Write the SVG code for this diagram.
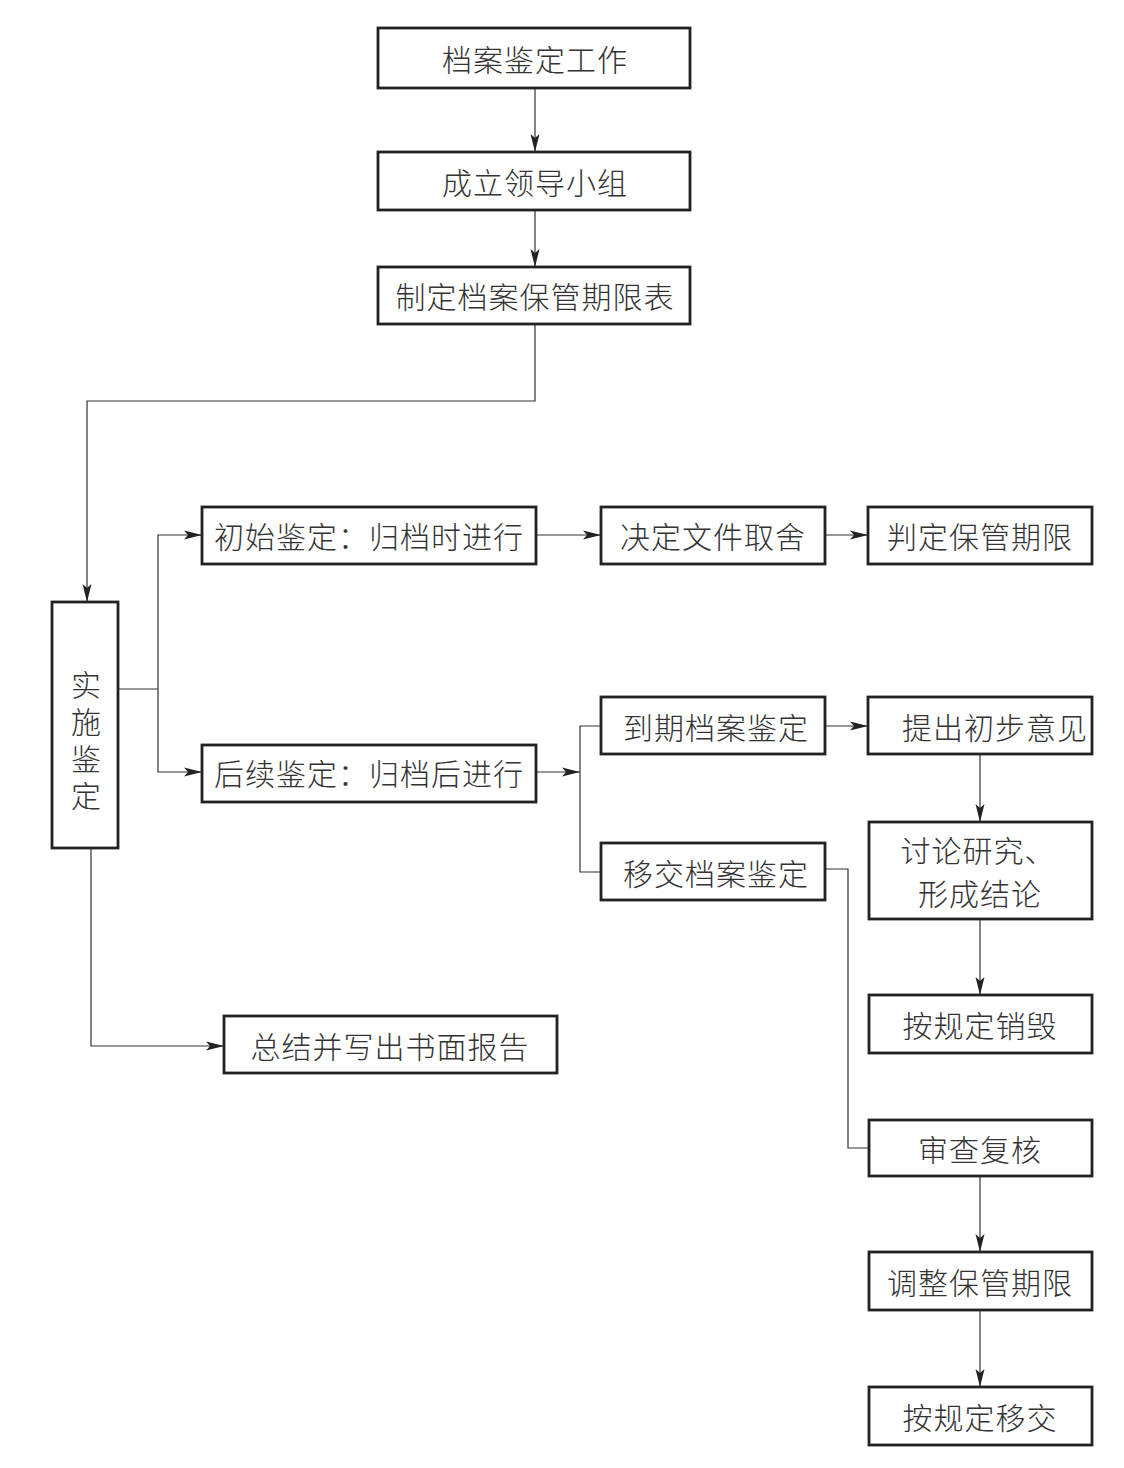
<svg xmlns="http://www.w3.org/2000/svg" width="1124" height="1468" viewBox="0 0 1124 1468">
<defs>
<marker id="arr" markerUnits="userSpaceOnUse" markerWidth="18" markerHeight="10" refX="18" refY="5" orient="auto">
<path d="M0,0.5 L18,5 L0,9.5 L4,5 z" fill="#222"/>
</marker>
<style>
.box{fill:#fff;stroke:#222;stroke-width:2.8}
.t{font-family:"Noto Sans CJK SC","Noto Sans CJK JP",sans-serif;font-size:30px;font-weight:300;fill:#333;text-anchor:middle;dominant-baseline:central;letter-spacing:1px}
.v{writing-mode:tb;letter-spacing:7px}
.c{fill:none;stroke:#333;stroke-width:1.2}
.a{fill:none;stroke:#333;stroke-width:1.2;marker-end:url(#arr)}
</style>
</defs>
<rect width="1124" height="1468" fill="#fff"/>
<g id="connectors">
<path class="a" d="M535,89 V152"/>
<path class="a" d="M535,210 V267"/>
<path class="a" d="M535,324 V401 H87 V602"/>
<path class="c" d="M118,689 H158"/>
<path class="a" d="M158,689 V535 H202"/>
<path class="a" d="M158,689 V772 H202"/>
<path class="a" d="M536,535 H601"/>
<path class="a" d="M825,535 H868"/>
<path class="a" d="M536,772 H580"/>
<path class="c" d="M601,726 H580 V872 H601"/>
<path class="a" d="M825,726 H868"/>
<path class="a" d="M980,754 V822"/>
<path class="a" d="M980,919 V995"/>
<path class="c" d="M825,869 H848 V1148 H869"/>
<path class="a" d="M980,1176 V1252"/>
<path class="a" d="M980,1310 V1387"/>
<path class="a" d="M91,848 V1046 H224"/>
</g>
<g id="n1"><rect class="box" x="378" y="28" width="312" height="60"/><text class="t" x="535" y="58">档案鉴定工作</text></g>
<g id="n2"><rect class="box" x="378" y="152" width="312" height="58"/><text class="t" x="535" y="181">成立领导小组</text></g>
<g id="n3"><rect class="box" x="378" y="267" width="312" height="57"/><text class="t" x="535" y="295">制定档案保管期限表</text></g>
<g id="n4"><rect class="box" x="52" y="602" width="66" height="246"/>
<text class="t v" x="86" y="744">实施鉴定</text></g>
<g id="n5"><rect class="box" x="202" y="507" width="334" height="57"/><text class="t" x="369" y="535">初始鉴定：归档时进行</text></g>
<g id="n6"><rect class="box" x="601" y="507" width="224" height="57"/><text class="t" x="713" y="535">决定文件取舍</text></g>
<g id="n7"><rect class="box" x="868" y="507" width="224" height="57"/><text class="t" x="980" y="535">判定保管期限</text></g>
<g id="n8"><rect class="box" x="202" y="745" width="334" height="57"/><text class="t" x="369" y="772">后续鉴定：归档后进行</text></g>
<g id="n9"><rect class="box" x="601" y="697" width="224" height="57"/><text class="t" x="716" y="726">到期档案鉴定</text></g>
<g id="n10"><rect class="box" x="868" y="697" width="224" height="57"/><text class="t" x="995" y="726">提出初步意见</text></g>
<g id="n11"><rect class="box" x="601" y="843" width="224" height="57"/><text class="t" x="716" y="872">移交档案鉴定</text></g>
<g id="n12"><rect class="box" x="869" y="822" width="223" height="97"/><text class="t"><tspan x="978" y="849">讨论研究、</tspan><tspan x="980" y="892">形成结论</tspan></text></g>
<g id="n13"><rect class="box" x="869" y="995" width="223" height="58"/><text class="t" x="980" y="1024">按规定销毁</text></g>
<g id="n14"><rect class="box" x="869" y="1120" width="223" height="56"/><text class="t" x="980" y="1148">审查复核</text></g>
<g id="n15"><rect class="box" x="869" y="1252" width="223" height="58"/><text class="t" x="980" y="1281">调整保管期限</text></g>
<g id="n16"><rect class="box" x="869" y="1387" width="223" height="58"/><text class="t" x="980" y="1416">按规定移交</text></g>
<g id="n17"><rect class="box" x="224" y="1016" width="333" height="57"/><text class="t" x="390" y="1045">总结并写出书面报告</text></g>
</svg>
